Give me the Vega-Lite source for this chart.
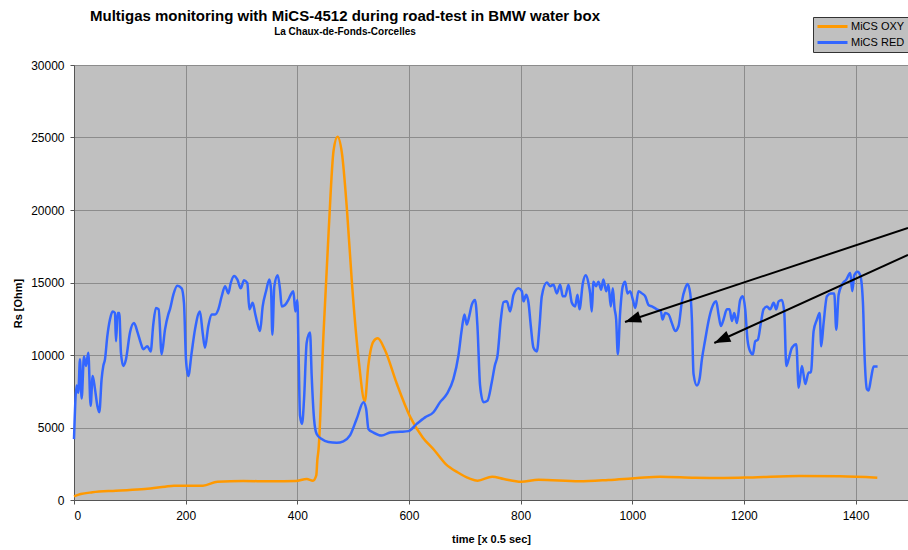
{
  "$schema": "https://vega.github.io/schema/vega-lite/v6.json",
  "width": 834,
  "height": 435,
  "autosize": {"type": "none"},
  "padding": {"left": 74, "top": 65, "right": 0, "bottom": 50},
  "background": "white",
  "title": {
    "text": "Multigas monitoring with MiCS-4512 during road-test in BMW water box",
    "subtitle": "La Chaux-de-Fonds-Corcelles",
    "anchor": "middle",
    "frame": "group",
    "dx": -146,
    "offset": -20,
    "font": "Liberation Sans",
    "fontSize": 15,
    "fontWeight": "bold",
    "color": "black",
    "subtitleFont": "Liberation Sans",
    "subtitleFontSize": 10,
    "subtitleFontWeight": "bold",
    "subtitleColor": "black",
    "subtitlePadding": 3
  },
  "config": {
    "view": {"fill": "#c0c0c0", "stroke": null},
    "axis": {
      "labelFont": "Liberation Sans",
      "labelFontSize": 12,
      "labelColor": "black",
      "titleFont": "Liberation Sans",
      "titleFontSize": 11,
      "titleFontWeight": "bold",
      "titleColor": "black",
      "domainColor": "#555555",
      "tickColor": "#555555",
      "tickSize": 4,
      "gridColor": "#8c8c8c",
      "gridWidth": 1
    }
  },
  "datasets": {
    "arrows": [
      {"arrow": 1, "t0": 1494, "r0": 18760, "t1": 987, "r1": 12280},
      {"arrow": 2, "t0": 1494, "r0": 16900, "t1": 1147, "r1": 10830}
    ]
  },
  "layer": [
    {
      "data": {"values": [
        {"t":0,"rs":250,"s":"MiCS OXY"},{"t":12,"rs":410,"s":"MiCS OXY"},{"t":33,"rs":530,"s":"MiCS OXY"},{"t":75,"rs":640,"s":"MiCS OXY"},{"t":127,"rs":760,"s":"MiCS OXY"},{"t":163,"rs":920,"s":"MiCS OXY"},{"t":179,"rs":990,"s":"MiCS OXY"},{"t":231,"rs":990,"s":"MiCS OXY"},{"t":257,"rs":1260,"s":"MiCS OXY"},{"t":303,"rs":1310,"s":"MiCS OXY"},{"t":355,"rs":1290,"s":"MiCS OXY"},{"t":397,"rs":1310,"s":"MiCS OXY"},{"t":417,"rs":1450,"s":"MiCS OXY"},{"t":428,"rs":1330,"s":"MiCS OXY"},{"t":434,"rs":1700,"s":"MiCS OXY"},{"t":436,"rs":2800,"s":"MiCS OXY"},{"t":438,"rs":3450,"s":"MiCS OXY"},{"t":447,"rs":11500,"s":"MiCS OXY"},{"t":456,"rs":18400,"s":"MiCS OXY"},{"t":465,"rs":24100,"s":"MiCS OXY"},{"t":472,"rs":25050,"s":"MiCS OXY"},{"t":480,"rs":23900,"s":"MiCS OXY"},{"t":489,"rs":20000,"s":"MiCS OXY"},{"t":498,"rs":14900,"s":"MiCS OXY"},{"t":510,"rs":9650,"s":"MiCS OXY"},{"t":521,"rs":6800,"s":"MiCS OXY"},{"t":527,"rs":9200,"s":"MiCS OXY"},{"t":536,"rs":10900,"s":"MiCS OXY"},{"t":544,"rs":11150,"s":"MiCS OXY"},{"t":557,"rs":10350,"s":"MiCS OXY"},{"t":578,"rs":8050,"s":"MiCS OXY"},{"t":602,"rs":5750,"s":"MiCS OXY"},{"t":625,"rs":4300,"s":"MiCS OXY"},{"t":644,"rs":3500,"s":"MiCS OXY"},{"t":666,"rs":2480,"s":"MiCS OXY"},{"t":687,"rs":1910,"s":"MiCS OXY"},{"t":708,"rs":1490,"s":"MiCS OXY"},{"t":723,"rs":1330,"s":"MiCS OXY"},{"t":749,"rs":1610,"s":"MiCS OXY"},{"t":770,"rs":1450,"s":"MiCS OXY"},{"t":801,"rs":1260,"s":"MiCS OXY"},{"t":832,"rs":1400,"s":"MiCS OXY"},{"t":905,"rs":1290,"s":"MiCS OXY"},{"t":957,"rs":1380,"s":"MiCS OXY"},{"t":1009,"rs":1520,"s":"MiCS OXY"},{"t":1050,"rs":1610,"s":"MiCS OXY"},{"t":1112,"rs":1540,"s":"MiCS OXY"},{"t":1164,"rs":1520,"s":"MiCS OXY"},{"t":1216,"rs":1560,"s":"MiCS OXY"},{"t":1299,"rs":1650,"s":"MiCS OXY"},{"t":1372,"rs":1630,"s":"MiCS OXY"},{"t":1439,"rs":1540,"s":"MiCS OXY"},
        {"t":0,"rs":4200,"s":"MiCS RED"},{"t":4.7,"rs":7900,"s":"MiCS RED"},{"t":7.7,"rs":7400,"s":"MiCS RED"},{"t":10.7,"rs":9700,"s":"MiCS RED"},{"t":13.7,"rs":7000,"s":"MiCS RED"},{"t":17.9,"rs":9900,"s":"MiCS RED"},{"t":21.5,"rs":9250,"s":"MiCS RED"},{"t":25.6,"rs":10150,"s":"MiCS RED"},{"t":29.8,"rs":6500,"s":"MiCS RED"},{"t":33.4,"rs":8550,"s":"MiCS RED"},{"t":37.6,"rs":7650,"s":"MiCS RED"},{"t":41.8,"rs":6500,"s":"MiCS RED"},{"t":45.3,"rs":6050,"s":"MiCS RED"},{"t":49.5,"rs":8350,"s":"MiCS RED"},{"t":52.5,"rs":9250,"s":"MiCS RED"},{"t":55.5,"rs":9700,"s":"MiCS RED"},{"t":59.7,"rs":11300,"s":"MiCS RED"},{"t":64.4,"rs":12450,"s":"MiCS RED"},{"t":69.2,"rs":13000,"s":"MiCS RED"},{"t":73.4,"rs":12900,"s":"MiCS RED"},{"t":75.2,"rs":10950,"s":"MiCS RED"},{"t":78.2,"rs":12900,"s":"MiCS RED"},{"t":81.2,"rs":12900,"s":"MiCS RED"},{"t":84.1,"rs":10150,"s":"MiCS RED"},{"t":88.3,"rs":9250,"s":"MiCS RED"},{"t":93.1,"rs":9700,"s":"MiCS RED"},{"t":100.3,"rs":11550,"s":"MiCS RED"},{"t":107.4,"rs":12200,"s":"MiCS RED"},{"t":114,"rs":11550,"s":"MiCS RED"},{"t":119.4,"rs":10850,"s":"MiCS RED"},{"t":124.1,"rs":10400,"s":"MiCS RED"},{"t":131.3,"rs":10600,"s":"MiCS RED"},{"t":137.3,"rs":10250,"s":"MiCS RED"},{"t":142,"rs":12100,"s":"MiCS RED"},{"t":146.8,"rs":13250,"s":"MiCS RED"},{"t":151.6,"rs":13150,"s":"MiCS RED"},{"t":157,"rs":10050,"s":"MiCS RED"},{"t":163,"rs":11750,"s":"MiCS RED"},{"t":168.9,"rs":12800,"s":"MiCS RED"},{"t":171.9,"rs":13150,"s":"MiCS RED"},{"t":177.9,"rs":14150,"s":"MiCS RED"},{"t":185,"rs":14770,"s":"MiCS RED"},{"t":192.8,"rs":14600,"s":"MiCS RED"},{"t":197,"rs":13600,"s":"MiCS RED"},{"t":200.6,"rs":9700,"s":"MiCS RED"},{"t":204.7,"rs":8550,"s":"MiCS RED"},{"t":210.7,"rs":10150,"s":"MiCS RED"},{"t":216.7,"rs":11750,"s":"MiCS RED"},{"t":225.6,"rs":13000,"s":"MiCS RED"},{"t":230.4,"rs":11550,"s":"MiCS RED"},{"t":234.6,"rs":10500,"s":"MiCS RED"},{"t":240.6,"rs":12000,"s":"MiCS RED"},{"t":246.5,"rs":12800,"s":"MiCS RED"},{"t":252.7,"rs":12800,"s":"MiCS RED"},{"t":258.6,"rs":13150,"s":"MiCS RED"},{"t":264.6,"rs":14050,"s":"MiCS RED"},{"t":270.6,"rs":14750,"s":"MiCS RED"},{"t":276.5,"rs":14250,"s":"MiCS RED"},{"t":280.7,"rs":14950,"s":"MiCS RED"},{"t":286.7,"rs":15450,"s":"MiCS RED"},{"t":292.7,"rs":15200,"s":"MiCS RED"},{"t":298.6,"rs":14600,"s":"MiCS RED"},{"t":304.6,"rs":15150,"s":"MiCS RED"},{"t":310.6,"rs":14950,"s":"MiCS RED"},{"t":314.1,"rs":13150,"s":"MiCS RED"},{"t":320.1,"rs":13600,"s":"MiCS RED"},{"t":324.3,"rs":12900,"s":"MiCS RED"},{"t":328.5,"rs":12200,"s":"MiCS RED"},{"t":333.3,"rs":11650,"s":"MiCS RED"},{"t":338,"rs":13350,"s":"MiCS RED"},{"t":344,"rs":14400,"s":"MiCS RED"},{"t":350,"rs":15200,"s":"MiCS RED"},{"t":353,"rs":14500,"s":"MiCS RED"},{"t":355.3,"rs":11400,"s":"MiCS RED"},{"t":358.9,"rs":14750,"s":"MiCS RED"},{"t":364.9,"rs":15500,"s":"MiCS RED"},{"t":369.1,"rs":14500,"s":"MiCS RED"},{"t":372.1,"rs":13350,"s":"MiCS RED"},{"t":378,"rs":13450,"s":"MiCS RED"},{"t":384,"rs":13800,"s":"MiCS RED"},{"t":388.2,"rs":14150,"s":"MiCS RED"},{"t":393,"rs":14400,"s":"MiCS RED"},{"t":396.5,"rs":13000,"s":"MiCS RED"},{"t":400.1,"rs":13800,"s":"MiCS RED"},{"t":402.5,"rs":9700,"s":"MiCS RED"},{"t":404.9,"rs":5800,"s":"MiCS RED"},{"t":408.5,"rs":5250,"s":"MiCS RED"},{"t":412.1,"rs":6950,"s":"MiCS RED"},{"t":416.8,"rs":10850,"s":"MiCS RED"},{"t":422.8,"rs":11550,"s":"MiCS RED"},{"t":425.8,"rs":8550,"s":"MiCS RED"},{"t":430,"rs":5600,"s":"MiCS RED"},{"t":434.7,"rs":4550,"s":"MiCS RED"},{"t":443.7,"rs":4200,"s":"MiCS RED"},{"t":455.6,"rs":4000,"s":"MiCS RED"},{"t":470.6,"rs":3950,"s":"MiCS RED"},{"t":482.5,"rs":4050,"s":"MiCS RED"},{"t":494.4,"rs":4450,"s":"MiCS RED"},{"t":506.5,"rs":5600,"s":"MiCS RED"},{"t":518.5,"rs":6750,"s":"MiCS RED"},{"t":523.3,"rs":6300,"s":"MiCS RED"},{"t":527.4,"rs":4900,"s":"MiCS RED"},{"t":536.4,"rs":4650,"s":"MiCS RED"},{"t":551.3,"rs":4450,"s":"MiCS RED"},{"t":566.2,"rs":4650,"s":"MiCS RED"},{"t":584.2,"rs":4700,"s":"MiCS RED"},{"t":599.1,"rs":4750,"s":"MiCS RED"},{"t":614,"rs":5250,"s":"MiCS RED"},{"t":628.9,"rs":5700,"s":"MiCS RED"},{"t":643.9,"rs":6050,"s":"MiCS RED"},{"t":655.8,"rs":6750,"s":"MiCS RED"},{"t":667.7,"rs":7300,"s":"MiCS RED"},{"t":679.7,"rs":8350,"s":"MiCS RED"},{"t":688.6,"rs":9950,"s":"MiCS RED"},{"t":694.6,"rs":11750,"s":"MiCS RED"},{"t":699.4,"rs":12800,"s":"MiCS RED"},{"t":703.6,"rs":12100,"s":"MiCS RED"},{"t":707.8,"rs":12650,"s":"MiCS RED"},{"t":712.5,"rs":13450,"s":"MiCS RED"},{"t":718.5,"rs":13800,"s":"MiCS RED"},{"t":722.7,"rs":12000,"s":"MiCS RED"},{"t":727.4,"rs":7900,"s":"MiCS RED"},{"t":733.4,"rs":6750,"s":"MiCS RED"},{"t":740.6,"rs":6850,"s":"MiCS RED"},{"t":748.3,"rs":8100,"s":"MiCS RED"},{"t":754,"rs":9300,"s":"MiCS RED"},{"t":758.6,"rs":9950,"s":"MiCS RED"},{"t":764.6,"rs":12450,"s":"MiCS RED"},{"t":769.4,"rs":13650,"s":"MiCS RED"},{"t":775.4,"rs":13700,"s":"MiCS RED"},{"t":781.3,"rs":13000,"s":"MiCS RED"},{"t":787.3,"rs":14150,"s":"MiCS RED"},{"t":796.2,"rs":14600,"s":"MiCS RED"},{"t":802.2,"rs":14400,"s":"MiCS RED"},{"t":805.2,"rs":13700,"s":"MiCS RED"},{"t":810,"rs":14150,"s":"MiCS RED"},{"t":814.2,"rs":13600,"s":"MiCS RED"},{"t":818.3,"rs":12000,"s":"MiCS RED"},{"t":823.1,"rs":10500,"s":"MiCS RED"},{"t":829.1,"rs":10250,"s":"MiCS RED"},{"t":833.9,"rs":12000,"s":"MiCS RED"},{"t":838,"rs":14050,"s":"MiCS RED"},{"t":847,"rs":15000,"s":"MiCS RED"},{"t":853,"rs":14750,"s":"MiCS RED"},{"t":858.9,"rs":14850,"s":"MiCS RED"},{"t":864.9,"rs":14250,"s":"MiCS RED"},{"t":870.9,"rs":14850,"s":"MiCS RED"},{"t":875.6,"rs":14050,"s":"MiCS RED"},{"t":879.8,"rs":14050,"s":"MiCS RED"},{"t":885.8,"rs":14850,"s":"MiCS RED"},{"t":891.8,"rs":13600,"s":"MiCS RED"},{"t":897.7,"rs":13350,"s":"MiCS RED"},{"t":901.9,"rs":14150,"s":"MiCS RED"},{"t":905.5,"rs":13150,"s":"MiCS RED"},{"t":911.5,"rs":14950,"s":"MiCS RED"},{"t":916.8,"rs":15500,"s":"MiCS RED"},{"t":921.6,"rs":14950,"s":"MiCS RED"},{"t":924.6,"rs":14250,"s":"MiCS RED"},{"t":927.5,"rs":13000,"s":"MiCS RED"},{"t":930.5,"rs":15050,"s":"MiCS RED"},{"t":935.3,"rs":14750,"s":"MiCS RED"},{"t":939.5,"rs":15050,"s":"MiCS RED"},{"t":944.3,"rs":14500,"s":"MiCS RED"},{"t":948.3,"rs":15200,"s":"MiCS RED"},{"t":953.3,"rs":14400,"s":"MiCS RED"},{"t":957.4,"rs":14850,"s":"MiCS RED"},{"t":961.6,"rs":13350,"s":"MiCS RED"},{"t":965.2,"rs":14600,"s":"MiCS RED"},{"t":968.2,"rs":13250,"s":"MiCS RED"},{"t":971.2,"rs":12450,"s":"MiCS RED"},{"t":974.2,"rs":10050,"s":"MiCS RED"},{"t":978.3,"rs":12900,"s":"MiCS RED"},{"t":983.1,"rs":14750,"s":"MiCS RED"},{"t":987.3,"rs":15050,"s":"MiCS RED"},{"t":991.5,"rs":14250,"s":"MiCS RED"},{"t":996.2,"rs":14400,"s":"MiCS RED"},{"t":1001.2,"rs":13800,"s":"MiCS RED"},{"t":1005.4,"rs":13250,"s":"MiCS RED"},{"t":1011.3,"rs":14400,"s":"MiCS RED"},{"t":1017.3,"rs":14250,"s":"MiCS RED"},{"t":1023.3,"rs":14050,"s":"MiCS RED"},{"t":1029.2,"rs":13450,"s":"MiCS RED"},{"t":1035.2,"rs":13350,"s":"MiCS RED"},{"t":1044.2,"rs":13150,"s":"MiCS RED"},{"t":1051.3,"rs":13000,"s":"MiCS RED"},{"t":1054.3,"rs":12450,"s":"MiCS RED"},{"t":1059.1,"rs":12900,"s":"MiCS RED"},{"t":1065,"rs":12800,"s":"MiCS RED"},{"t":1071,"rs":12200,"s":"MiCS RED"},{"t":1077,"rs":11650,"s":"MiCS RED"},{"t":1083,"rs":12000,"s":"MiCS RED"},{"t":1089,"rs":13700,"s":"MiCS RED"},{"t":1094.9,"rs":14600,"s":"MiCS RED"},{"t":1099.1,"rs":14900,"s":"MiCS RED"},{"t":1103.9,"rs":14250,"s":"MiCS RED"},{"t":1106.8,"rs":12550,"s":"MiCS RED"},{"t":1109.8,"rs":8700,"s":"MiCS RED"},{"t":1115.8,"rs":7900,"s":"MiCS RED"},{"t":1120.6,"rs":8350,"s":"MiCS RED"},{"t":1124.8,"rs":9700,"s":"MiCS RED"},{"t":1130.7,"rs":11050,"s":"MiCS RED"},{"t":1136.7,"rs":12350,"s":"MiCS RED"},{"t":1142.7,"rs":13250,"s":"MiCS RED"},{"t":1150.4,"rs":13700,"s":"MiCS RED"},{"t":1154.6,"rs":12800,"s":"MiCS RED"},{"t":1158.8,"rs":12000,"s":"MiCS RED"},{"t":1163.6,"rs":12450,"s":"MiCS RED"},{"t":1169.5,"rs":13150,"s":"MiCS RED"},{"t":1174.3,"rs":13150,"s":"MiCS RED"},{"t":1178.5,"rs":12350,"s":"MiCS RED"},{"t":1182.7,"rs":12900,"s":"MiCS RED"},{"t":1187.4,"rs":12200,"s":"MiCS RED"},{"t":1193.4,"rs":13800,"s":"MiCS RED"},{"t":1198.2,"rs":14050,"s":"MiCS RED"},{"t":1202.4,"rs":13150,"s":"MiCS RED"},{"t":1206.5,"rs":11050,"s":"MiCS RED"},{"t":1211.3,"rs":10250,"s":"MiCS RED"},{"t":1216.1,"rs":10050,"s":"MiCS RED"},{"t":1220.3,"rs":10950,"s":"MiCS RED"},{"t":1225,"rs":11050,"s":"MiCS RED"},{"t":1230.4,"rs":12200,"s":"MiCS RED"},{"t":1235.2,"rs":13150,"s":"MiCS RED"},{"t":1241.2,"rs":13350,"s":"MiCS RED"},{"t":1247.1,"rs":13150,"s":"MiCS RED"},{"t":1253.3,"rs":13600,"s":"MiCS RED"},{"t":1258,"rs":13150,"s":"MiCS RED"},{"t":1262.2,"rs":13700,"s":"MiCS RED"},{"t":1268.2,"rs":13800,"s":"MiCS RED"},{"t":1272.4,"rs":12900,"s":"MiCS RED"},{"t":1276,"rs":9250,"s":"MiCS RED"},{"t":1280.1,"rs":9700,"s":"MiCS RED"},{"t":1286.1,"rs":10500,"s":"MiCS RED"},{"t":1293.9,"rs":10750,"s":"MiCS RED"},{"t":1298.1,"rs":7750,"s":"MiCS RED"},{"t":1304,"rs":9250,"s":"MiCS RED"},{"t":1310,"rs":8000,"s":"MiCS RED"},{"t":1316,"rs":8800,"s":"MiCS RED"},{"t":1320.1,"rs":8800,"s":"MiCS RED"},{"t":1324.9,"rs":11650,"s":"MiCS RED"},{"t":1330.9,"rs":12450,"s":"MiCS RED"},{"t":1335.7,"rs":12900,"s":"MiCS RED"},{"t":1338.6,"rs":10600,"s":"MiCS RED"},{"t":1342.8,"rs":12200,"s":"MiCS RED"},{"t":1348.8,"rs":14050,"s":"MiCS RED"},{"t":1356,"rs":14250,"s":"MiCS RED"},{"t":1361.9,"rs":14250,"s":"MiCS RED"},{"t":1365.5,"rs":11750,"s":"MiCS RED"},{"t":1369.7,"rs":14150,"s":"MiCS RED"},{"t":1375.7,"rs":14850,"s":"MiCS RED"},{"t":1383.4,"rs":15200,"s":"MiCS RED"},{"t":1390.6,"rs":15650,"s":"MiCS RED"},{"t":1394.2,"rs":14400,"s":"MiCS RED"},{"t":1397.7,"rs":15500,"s":"MiCS RED"},{"t":1403.7,"rs":15750,"s":"MiCS RED"},{"t":1408.5,"rs":15500,"s":"MiCS RED"},{"t":1413.3,"rs":13600,"s":"MiCS RED"},{"t":1416.2,"rs":9950,"s":"MiCS RED"},{"t":1420.4,"rs":7650,"s":"MiCS RED"},{"t":1423.4,"rs":7550,"s":"MiCS RED"},{"t":1427.6,"rs":8350,"s":"MiCS RED"},{"t":1432.4,"rs":9200,"s":"MiCS RED"},{"t":1439.5,"rs":9200,"s":"MiCS RED"}
      ]},
      "mark": {"type": "line", "strokeWidth": 2.5, "strokeJoin": "round", "interpolate": "monotone"},
      "encoding": {
        "x": {
          "field": "t", "type": "quantitative",
          "scale": {"domain": [0, 1494], "nice": false, "zero": false},
          "axis": {"values": [0, 200, 400, 600, 800, 1000, 1200, 1400], "format": "d", "title": "time [x 0.5 sec]", "titlePadding": 12, "labelPadding": 6, "grid": true}
        },
        "y": {
          "field": "rs", "type": "quantitative",
          "scale": {"domain": [0, 30000], "nice": false},
          "axis": {"values": [0, 5000, 10000, 15000, 20000, 25000, 30000], "format": "d", "title": "Rs [Ohm]", "titleAngle": -90, "titleX": -56, "titleY": 238, "titleAlign": "center", "titleBaseline": "middle", "labelPadding": 6, "grid": true}
        },
        "color": {
          "field": "s", "type": "nominal",
          "scale": {"domain": ["MiCS OXY", "MiCS RED"], "range": ["#ff9900", "#3366ff"]},
          "legend": {
            "title": null, "orient": "none", "legendX": 739, "legendY": -48,
            "fillColor": "#c0c0c0", "strokeColor": "#333333", "padding": 3,
            "symbolType": "M-1,0L5,0", "symbolStrokeWidth": 3, "symbolSize": 100,
            "labelFont": "Liberation Sans", "labelFontSize": 11, "labelColor": "black",
            "labelOffset": 22, "rowPadding": 3
          }
        }
      }
    },
    {
      "data": {"name": "arrows"},
      "mark": {"type": "rule", "color": "black", "strokeWidth": 2},
      "encoding": {
        "x": {"field": "t0", "type": "quantitative"},
        "y": {"field": "r0", "type": "quantitative"},
        "x2": {"field": "t1"},
        "y2": {"field": "r1"}
      }
    },
    {
      "data": {"name": "arrows"},
      "transform": [{"filter": "datum.arrow == 1"}],
      "mark": {"type": "point", "shape": "M0,0L0.75,2L-0.75,2Z", "filled": true, "color": "black", "opacity": 1, "size": 256, "angle": 251.6},
      "encoding": {
        "x": {"field": "t1", "type": "quantitative"},
        "y": {"field": "r1", "type": "quantitative"}
      }
    },
    {
      "data": {"name": "arrows"},
      "transform": [{"filter": "datum.arrow == 2"}],
      "mark": {"type": "point", "shape": "M0,0L0.75,2L-0.75,2Z", "filled": true, "color": "black", "opacity": 1, "size": 256, "angle": 245.6},
      "encoding": {
        "x": {"field": "t1", "type": "quantitative"},
        "y": {"field": "r1", "type": "quantitative"}
      }
    }
  ]
}
